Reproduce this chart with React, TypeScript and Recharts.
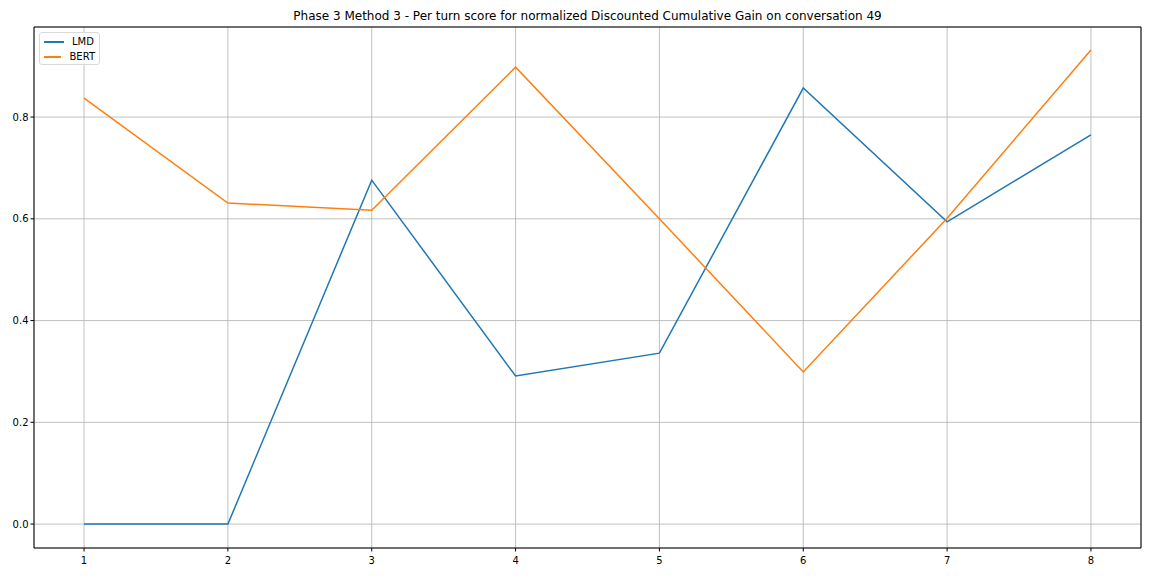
import React from "react";
import {
  LineChart,
  Line,
  XAxis,
  YAxis,
  CartesianGrid,
  ReferenceArea,
} from "recharts";

const turns = [1, 2, 3, 4, 5, 6, 7, 8];
const lmdScores = [0, 0, 0.676, 0.291, 0.336, 0.857, 0.594, 0.765];
const bertScores = [0.837, 0.631, 0.617, 0.898, 0.6, 0.299, 0.601, 0.932];
const yTicks = [0, 0.2, 0.4, 0.6, 0.8];

const data = turns.map((t, i) => ({
  turn: t,
  LMD: lmdScores[i],
  BERT: bertScores[i],
}));

const FONT = "DejaVu Sans, sans-serif";
const X_DOMAIN: [number, number] = [0.652, 8.348];
const Y_DOMAIN: [number, number] = [-0.047, 0.977];

export default function App() {
  return (
    <div style={{ position: "relative", width: 1152, height: 576, background: "#fff", fontFamily: FONT }}>
      <style>{"body{margin:0}"}</style>
      <div
        style={{
          position: "absolute",
          top: 9,
          left: 34,
          width: 1107,
          textAlign: "center",
          fontSize: 12,
          color: "#000",
        }}
      >
        Phase 3 Method 3 - Per turn score for normalized Discounted Cumulative Gain on conversation 49
      </div>
      <LineChart
        width={1152}
        height={576}
        data={data}
        margin={{ top: 27, right: 11, left: 0, bottom: 0 }}
      >
        <CartesianGrid stroke="#b0b0b0" strokeWidth={0.8} />
        <XAxis
          dataKey="turn"
          type="number"
          domain={X_DOMAIN}
          ticks={turns}
          allowDataOverflow
          height={28}
          axisLine={false}
          tickLine={{ stroke: "#000" }}
          tickSize={3.5}
          tick={{ fill: "#000", fontSize: 10, fontFamily: FONT, dy: 3 }}
        />
        <YAxis
          type="number"
          domain={Y_DOMAIN}
          ticks={yTicks}
          allowDataOverflow
          width={34}
          axisLine={false}
          tickLine={{ stroke: "#000" }}
          tickSize={3.5}
          tickFormatter={(v: number) => v.toFixed(1)}
          tick={{ fill: "#000", fontSize: 10, fontFamily: FONT }}
        />
        <ReferenceArea
          x1={X_DOMAIN[0]}
          x2={X_DOMAIN[1]}
          y1={Y_DOMAIN[0]}
          y2={Y_DOMAIN[1]}
          fill="none"
          stroke="#000"
          strokeWidth={1}
          ifOverflow="visible"
        />
        <Line
          dataKey="LMD"
          stroke="#1f77b4"
          strokeWidth={1.5}
          dot={false}
          isAnimationActive={false}
          type="linear"
        />
        <Line
          dataKey="BERT"
          stroke="#ff7f0e"
          strokeWidth={1.5}
          dot={false}
          isAnimationActive={false}
          type="linear"
        />
      </LineChart>
      <div
        style={{
          position: "absolute",
          left: 39,
          top: 32,
          width: 61,
          height: 33,
          border: "1px solid #d9d9d9",
          borderRadius: 3,
          background: "rgba(255,255,255,0.8)",
          fontSize: 10,
          color: "#000",
          boxSizing: "border-box",
          padding: "1px 4px",
        }}
      >
        {[
          { name: "LMD", color: "#1f77b4" },
          { name: "BERT", color: "#ff7f0e" },
        ].map((e) => (
          <div key={e.name} style={{ display: "flex", alignItems: "center", height: 15 }}>
            <span style={{ display: "inline-block", width: 20, height: 2, background: e.color, marginRight: 8 }} />
            <span>{e.name}</span>
          </div>
        ))}
      </div>
    </div>
  );
}
